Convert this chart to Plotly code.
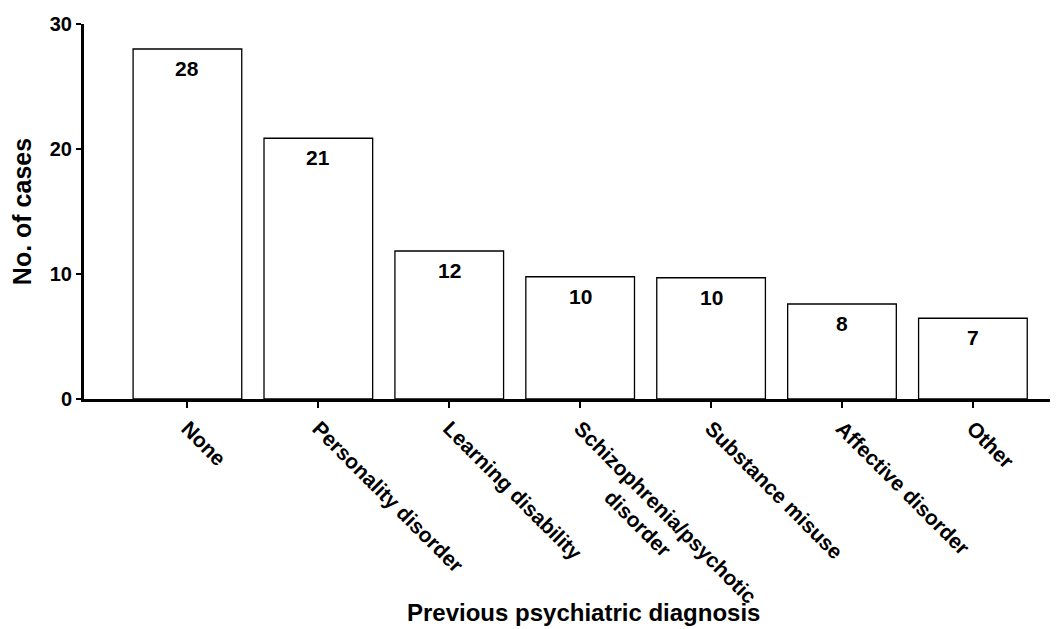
import plotly.graph_objects as go

NB = "\u00a0"
categories = ["None", "Personality disorder", "Learning disability",
              "Schizophrenia/psychotic<br>" + NB * 12 + "disorder", "Substance misuse",
              "Affective disorder", "Other"]
case_labels = [28, 21, 12, 10, 10, 8, 7]
bar_heights = [28.0, 20.86, 11.84, 9.78, 9.7, 7.6, 6.46]
y_ticks = [0, 10, 20, 30]

FONT = "Liberation Sans"

fig = go.Figure()
fig.add_trace(go.Bar(
    x=categories, y=bar_heights, width=0.83,
    marker=dict(color="white", line=dict(color="black", width=1.3)),
    showlegend=False, hoverinfo="skip",
))

for c, h, lab in zip(categories, bar_heights, case_labels):
    fig.add_annotation(x=c, y=h, text=str(lab), showarrow=False,
                       yanchor="top", yshift=-6,
                       font=dict(family=FONT, size=21, color="black", weight="bold"))

fig.add_annotation(x=0.513, y=-0.57, xref="paper", yref="paper",
                   text="Previous psychiatric diagnosis", showarrow=False,
                   xanchor="center", yanchor="middle",
                   font=dict(family=FONT, size=24, color="black", weight="bold"))

# page body has an 8px default margin: figure is sized to fit the 1058x629 window
fig.update_layout(
    width=1050, height=621,
    margin=dict(l=76, r=0, t=16, b=230),
    paper_bgcolor="white", plot_bgcolor="white",
    bargap=0.17,
)
fig.update_xaxes(
    range=[-0.79, 6.65], showline=True, linecolor="black", linewidth=3,
    ticks="outside", ticklen=6, tickwidth=2, tickcolor="black",
    tickangle=45, showgrid=False, zeroline=False, automargin=False,
    tickfont=dict(family=FONT, size=21, color="black", weight="bold"),
)
fig.update_yaxes(
    range=[0, 30], tickvals=y_ticks, showline=True, linecolor="black", linewidth=3,
    ticks="outside", ticklen=5, tickwidth=2, tickcolor="black",
    showgrid=False, zeroline=False, automargin=False,
    tickfont=dict(family=FONT, size=20, color="black", weight="bold"),
    title=dict(text="No. of cases", standoff=20,
               font=dict(family=FONT, size=25, color="black", weight="bold")),
)

fig.write_html("out.html")
